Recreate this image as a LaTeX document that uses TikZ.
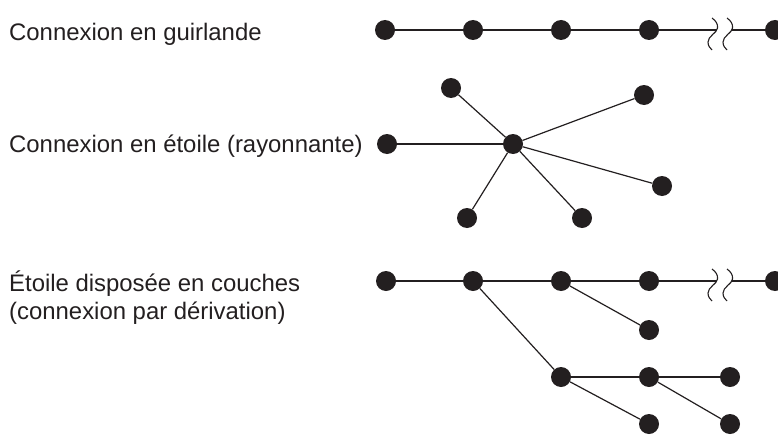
\documentclass[tikz,border=0pt]{standalone}
\usepackage{fontspec}
\setmainfont{Liberation Sans}
\definecolor{ink}{HTML}{231F20}
\begin{document}
\begin{tikzpicture}[x=1pt,y=-1pt,
  dot/.style={circle,fill=ink,draw=none,minimum size=20pt,inner sep=0pt},
  link/.style={draw=ink,line width=1.2pt},
  squig/.style={draw=ink,line width=1.1pt},
  lab/.style={anchor=base west,inner sep=0pt,text=ink,font=\fontsize{23.9}{28}\selectfont,align=left}]
\useasboundingbox (0,0) rectangle (778,436);
\newcommand{\breaksym}[2]{%
  \draw[squig] (#1,#2-12) .. controls (#1+4,#2-9) and (#1+6,#2-6) .. (#1+5.5,#2-2)
     .. controls (#1+5,#2+3) and (#1-4,#2+6) .. (#1-4,#2+12)
     .. controls (#1-4,#2+16) and (#1-2,#2+18) .. (#1,#2+20);}
% Labels
\node[lab] (t1) at (9,40.5) {Connexion en guirlande};
\node[lab] (t2) at (9,152) {Connexion en étoile (rayonnante)};
\node[lab] (t3) at (9,319) {Étoile disposée en couches\\(connexion par dérivation)};
% Row 1: daisy chain
\node[dot] (a1) at (385,30) {};
\node[dot] (a2) at (473,30) {};
\node[dot] (a3) at (561,30) {};
\node[dot] (a4) at (649,30) {};
\node[dot] (a5) at (775,30) {};
\coordinate (ab1) at (717,30);
\coordinate (ab2) at (732,30);
\draw[link] (a1) -- (a2) -- (a3) -- (a4) -- (ab1);
\draw[link] (ab2) -- (a5);
\breaksym{712}{30}
\breaksym{727}{30}
% Row 2: star
\node[dot] (c) at (513,144) {};
\node[dot] (s1) at (387,144) {};
\node[dot] (s2) at (451,88) {};
\node[dot] (s3) at (644,95) {};
\node[dot] (s4) at (662,186) {};
\node[dot] (s5) at (467,218) {};
\node[dot] (s6) at (582,218) {};
\foreach \s in {s1,s2,s3,s4,s5,s6} \draw[link] (c) -- (\s);
% Row 3: layered star
\node[dot] (b1) at (386,281) {};
\node[dot] (b2) at (473,281) {};
\node[dot] (b3) at (561,281) {};
\node[dot] (b4) at (649,281) {};
\node[dot] (b5) at (775,281) {};
\coordinate (bb1) at (717,281);
\coordinate (bb2) at (732,281);
\draw[link] (b1) -- (b2) -- (b3) -- (b4) -- (bb1);
\draw[link] (bb2) -- (b5);
\breaksym{712}{281}
\breaksym{727}{281}
\node[dot] (b6) at (649,330) {};
\draw[link] (b3) -- (b6);
\node[dot] (e1) at (561,377) {};
\node[dot] (e2) at (649,377) {};
\node[dot] (e3) at (730,377) {};
\node[dot] (e4) at (649,424) {};
\node[dot] (e5) at (730,424) {};
\draw[link] (b2) -- (e1);
\draw[link] (e1) -- (e2) -- (e3);
\draw[link] (e1) -- (e4);
\draw[link] (e2) -- (e5);
\end{tikzpicture}
\end{document}
